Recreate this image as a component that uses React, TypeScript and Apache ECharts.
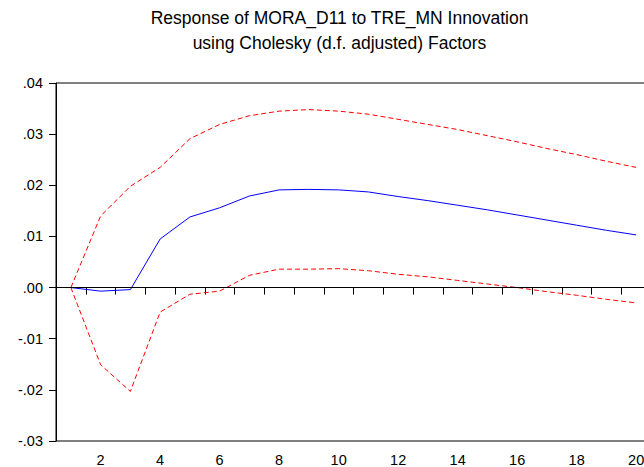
import React, { useEffect, useRef } from "react";
import * as echarts from "echarts";

const titleLines = [
  "Response of MORA_D11 to TRE_MN Innovation",
  "using Cholesky (d.f. adjusted) Factors",
];
const periods = ["1","2","3","4","5","6","7","8","9","10","11","12","13","14","15","16","17","18","19","20"];
const response = [0, -0.0007, -0.0004, 0.0095, 0.0138, 0.0156, 0.0179, 0.0191, 0.0192, 0.0191, 0.0187, 0.0178, 0.0170, 0.0161, 0.0152, 0.0142, 0.0132, 0.0122, 0.0112, 0.0103];
const upperBand = [0, 0.0140, 0.0198, 0.0235, 0.0291, 0.0319, 0.0336, 0.0345, 0.0348, 0.0345, 0.0339, 0.0329, 0.0319, 0.0309, 0.0297, 0.0285, 0.0272, 0.0260, 0.0247, 0.0235];
const lowerBand = [0, -0.0151, -0.0203, -0.0048, -0.0013, -0.0007, 0.0024, 0.0036, 0.0036, 0.0037, 0.0033, 0.0026, 0.0021, 0.0014, 0.0007, 0.0000, -0.0008, -0.0015, -0.0023, -0.0030];
const yMin = -0.03;
const yMax = 0.04;
const yStep = 0.01;

const FONT = "'Liberation Sans', Arial, sans-serif";

function fmtY(v: number): string {
  let r = Math.round(v * 100) / 100;
  if (Math.abs(r) < 1e-9) r = 0;
  const s = r.toFixed(2);
  return s.replace(/^(-?)0\./, "$1.");
}

export default function App() {
  const ref = useRef<HTMLDivElement>(null);
  useEffect(() => {
    document.body.style.margin = "0";
    if (!ref.current) return;
    const chart = echarts.init(ref.current, null, { renderer: "svg" });
    chart.setOption({
      animation: false,
      backgroundColor: "#fff",
      graphic: titleLines.map((t, i) => ({
        type: "text",
        x: 339.5,
        y: 18 + i * 25,
        style: {
          text: t,
          fill: "#000",
          font: `17.5px ${FONT}`,
          textAlign: "center",
          textVerticalAlign: "middle",
        },
      })),
      grid: {
        left: 56,
        right: 13,
        top: 83,
        bottom: 25.5,
        show: true,
        borderColor: "#000",
        borderWidth: 1,
        backgroundColor: "transparent",
      },
      xAxis: {
        type: "category",
        data: periods,
        boundaryGap: true,
        axisLine: { show: true, lineStyle: { color: "#000", width: 1 } },
        axisTick: { show: true, interval: 0, alignWithLabel: false, length: 7, lineStyle: { color: "#000" } },
        axisLabel: {
          interval: (index: number) => index % 2 === 1,
          color: "#000",
          fontFamily: FONT,
          fontSize: 14.5,
          margin: 11,
        },
        splitLine: { show: false },
      },
      yAxis: {
        type: "value",
        min: yMin,
        max: yMax,
        interval: yStep,
        axisLine: { show: true, lineStyle: { color: "#000", width: 1 } },
        axisTick: { show: true, length: 7, lineStyle: { color: "#000" } },
        axisLabel: {
          color: "#000",
          fontFamily: FONT,
          fontSize: 14.5,
          margin: 13,
          formatter: fmtY,
        },
        splitLine: { show: false },
      },
      series: [
        {
          name: "Response",
          type: "line",
          data: response,
          symbol: "none",
          lineStyle: { color: "#0000ff", width: 1 },
          markLine: {
            silent: true,
            symbol: "none",
            label: { show: false },
            lineStyle: { color: "#000", width: 1, type: "solid" },
            data: [{ yAxis: 0 }],
          },
          z: 3,
        },
        {
          name: "Upper",
          type: "line",
          data: upperBand,
          symbol: "none",
          lineStyle: { color: "#ff0000", width: 1, type: [5, 3] },
          z: 3,
        },
        {
          name: "Lower",
          type: "line",
          data: lowerBand,
          symbol: "none",
          lineStyle: { color: "#ff0000", width: 1, type: [5, 3] },
          z: 3,
        },
      ],
    });
    return () => chart.dispose();
  }, []);
  return (
    <div style={{ position: "absolute", left: 0, top: 0, width: 644, height: 467, overflow: "hidden", background: "#fff" }}>
      <div ref={ref} style={{ width: 664, height: 467 }} />
    </div>
  );
}
